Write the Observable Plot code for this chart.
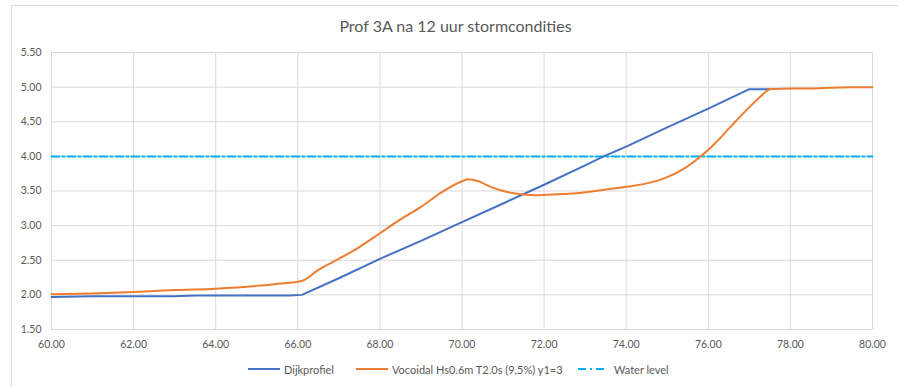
<!DOCTYPE html>
<html>
<head>
<meta charset="utf-8">
<script src="https://cdn.jsdelivr.net/npm/d3@7"></script>
<script src="https://cdn.jsdelivr.net/npm/@observablehq/plot@0.6"></script>
<style>
  html, body { margin: 0; padding: 0; background: #fff; }
  #wrap { position: relative; width: 898px; height: 387px; overflow: hidden; font-family: Lato, "Open Sans", sans-serif; color: #595959; }
  #frame { position: absolute; left: 11px; top: 5px; width: 1000px; height: 1000px; border-left: 1px solid #d9d9d9; border-top: 1px solid #d9d9d9; box-sizing: border-box; }
  #title { position: absolute; left: 0; width: 911px; top: 16px; text-align: center; font-size: 16px; white-space: nowrap; }
  #chart { position: absolute; left: 0; top: 0; }
  .leg { position: absolute; top: 362px; font-size: 11px; white-space: nowrap; display: flex; align-items: center; height: 14px; }
  .sw { display: inline-block; width: 32px; height: 0; margin-right: 4px; }
</style>
</head>
<body>
<div id="wrap">
  <div id="frame"></div>
  <div id="chart"></div>
  <div id="title">Prof 3A na 12 uur stormcondities</div>
  <div class="leg" style="left:248px"><span class="sw" style="border-top:2px solid #4472C4"></span>Dijkprofiel</div>
  <div class="leg" style="left:356px"><span class="sw" style="border-top:2px solid #ED7D31"></span>Vocoidal Hs0.6m T2.0s (9,5%) y1=3</div>
  <div class="leg" style="left:578px"><svg width="27" height="4" style="margin-right:9px"><line x1="0" y1="2" x2="27" y2="2" stroke="#00B0F0" stroke-width="2" stroke-dasharray="8,4,2,4"/></svg>Water level</div>
</div>
<script>
const xTicks = [60, 62, 64, 66, 68, 70, 72, 74, 76, 78, 80];
const yTicks = [1.5, 2.0, 2.5, 3.0, 3.5, 4.0, 4.5, 5.0, 5.5];

const dijkX = [60, 61, 63, 63.5, 65.8, 66.1, 67, 68, 69, 70, 71, 72, 73, 73.45, 74, 75, 76, 77, 77.5];
const dijkY = [1.97, 1.98, 1.98, 1.99, 1.99, 2.00, 2.24, 2.52, 2.78, 3.05, 3.32, 3.59, 3.87, 4.00, 4.14, 4.42, 4.69, 4.97, 4.97];

const vocX = [60, 61, 62, 63, 64, 65, 65.5, 66.1, 66.5, 67, 67.5, 68, 68.5, 69, 69.5, 70, 70.15, 70.4, 70.7, 71, 71.5, 71.8, 72.2, 72.6, 73.1, 73.5, 74, 74.5, 75, 75.4, 75.75, 76.1, 76.5, 76.9, 77.3, 77.5, 78, 78.5, 79, 79.5, 80];
const vocY = [2.01, 2.02, 2.04, 2.07, 2.09, 2.13, 2.16, 2.20, 2.36, 2.52, 2.69, 2.89, 3.09, 3.27, 3.48, 3.64, 3.67, 3.64, 3.56, 3.50, 3.45, 3.44, 3.45, 3.46, 3.49, 3.52, 3.56, 3.61, 3.70, 3.82, 3.97, 4.15, 4.40, 4.65, 4.88, 4.97, 4.98, 4.98, 4.99, 5.00, 5.00];

const waterX = [60, 80];
const waterY = [4.0, 4.0];

const dijk = dijkX.map((x, i) => ({x, y: dijkY[i]}));
const voc = vocX.map((x, i) => ({x, y: vocY[i]}));
const water = waterX.map((x, i) => ({x, y: waterY[i]}));

const fmt = d => d.toFixed(2);

const plot = Plot.plot({
  width: 898,
  height: 387,
  marginLeft: 51,
  marginRight: 26,
  marginTop: 52,
  marginBottom: 58,
  style: {background: "transparent", fontFamily: "Lato, 'Open Sans', sans-serif", fontSize: "10.5px", color: "#595959"},
  x: {domain: [60, 80], ticks: xTicks, tickFormat: fmt, label: null},
  y: {domain: [1.5, 5.5], ticks: yTicks, tickFormat: fmt, label: null},
  marks: [
    Plot.gridX(xTicks, {stroke: "#d9d9d9", strokeOpacity: 1, strokeWidth: 1}),
    Plot.gridY(yTicks, {stroke: "#d9d9d9", strokeOpacity: 1, strokeWidth: 1}),
    Plot.axisX(xTicks, {tickSize: 0, tickPadding: 11, tickFormat: fmt, fill: "#595959", fontSize: 10.5, label: null}),
    Plot.axisY(yTicks, {tickSize: 0, tickPadding: 10, tickFormat: fmt, fill: "#595959", fontSize: 10.5, label: null}),
    Plot.line(water, {x: "x", y: "y", stroke: "#00B0F0", strokeWidth: 2, strokeDasharray: "8,3,2,3"}),
    Plot.line(dijk, {x: "x", y: "y", stroke: "#4472C4", strokeWidth: 2}),
    Plot.line(voc, {x: "x", y: "y", stroke: "#ED7D31", strokeWidth: 2, curve: "monotone-x"})
  ]
});
document.getElementById("chart").appendChild(plot);
</script>
</body>
</html>
